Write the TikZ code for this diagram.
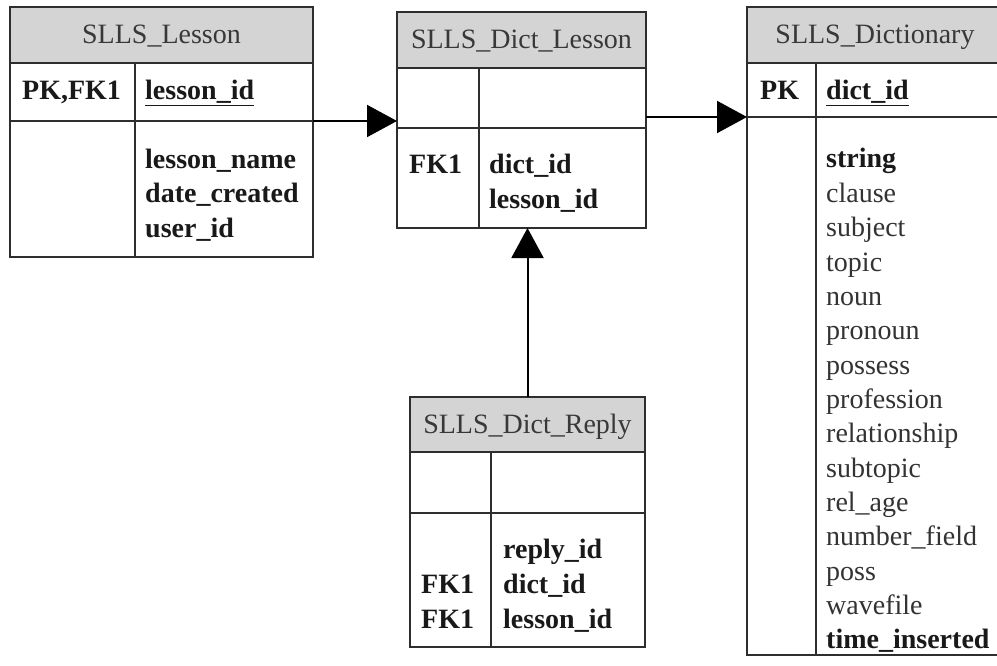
\documentclass[tikz,border=0pt]{standalone}
\usepackage{fontspec}
\setmainfont{Liberation Serif}
\usetikzlibrary{arrows.meta}
\begin{document}
\begin{tikzpicture}[x=1pt,y=-1pt,
  line/.style={draw=black!82, line width=1.8pt},
  cell/.style={line, anchor=north west, inner sep=0pt, outer sep=0pt, fill=white},
  hdr/.style={cell, fill=black!17, text=black!78, text height=20pt, text depth=2pt,
    font=\fontsize{28}{34}\selectfont},
  fld/.style={anchor=base west, inner sep=0pt, text=black!80, font=\fontsize{28}{34}\selectfont},
  fldb/.style={anchor=base west, inner sep=0pt, text=black!90, font=\fontsize{28}{34}\selectfont\bfseries},
  conn/.style={draw=black, line width=2pt, -{Triangle[length=30pt,width=32pt]}}
]
\clip (0,0) rectangle (997,666);
\useasboundingbox (0,0) rectangle (997,666);

% ---------- SLLS_Lesson ----------
\node[hdr, minimum width=303pt, minimum height=56pt] (les-h) at (10,7) {SLLS\_Lesson};
\node[cell, minimum width=303pt, minimum height=58pt] (les-k) at (10,63) {};
\node[cell, minimum width=303pt, minimum height=136pt] (les-b) at (10,121) {};
\draw[line] (135,63) -- (135,257);
\node[fldb] (les-pk) at (22,100) {PK,FK1};
\node[fldb] (les-id) at (145,100) {\underline{lesson\_id}};
\node[fldb] (les-f1) at (145,169) {lesson\_name};
\node[fldb] (les-f2) at (145,203) {date\_created};
\node[fldb] (les-f3) at (145,237) {user\_id};

% ---------- SLLS_Dict_Lesson ----------
\node[hdr, minimum width=249pt, minimum height=56pt] (dl-h) at (397,12) {SLLS\_Dict\_Lesson};
\node[cell, minimum width=249pt, minimum height=60pt] (dl-k) at (397,68) {};
\node[cell, minimum width=249pt, minimum height=100pt] (dl-b) at (397,128) {};
\draw[line] (479,68) -- (479,228);
\node[fldb] (dl-fk) at (409,174) {FK1};
\node[fldb] (dl-f1) at (489,174) {dict\_id};
\node[fldb] (dl-f2) at (489,208) {lesson\_id};

% ---------- SLLS_Dictionary ----------
\node[hdr, minimum width=256pt, minimum height=56pt] (dic-h) at (747,7) {SLLS\_Dictionary};
\node[cell, minimum width=280pt, minimum height=54pt] (dic-k) at (747,63) {};
\node[cell, minimum width=280pt, minimum height=538pt] (dic-b) at (747,117) {};
\draw[line] (816,63) -- (816,655);
\node[fldb] (dic-pk) at (760,100) {PK};
\node[fldb] (dic-id) at (826,100) {\underline{dict\_id}};
\node[fldb] (dic-f0) at (826,168) {string};
\foreach \t [count=\i] in {clause,subject,topic,noun,pronoun,possess,profession,
    relationship,subtopic,rel\_age,number\_field,poss,wavefile}
  \node[fld] (dic-f\i) at (826,{168+34.35*\i}) {\t};
\node[fldb] (dic-f14) at (826,{168+34.35*14}) {time\_inserted};

% ---------- SLLS_Dict_Reply ----------
\node[hdr, minimum width=235pt, minimum height=55pt] (rep-h) at (410,397) {SLLS\_Dict\_Reply};
\node[cell, minimum width=235pt, minimum height=61pt] (rep-k) at (410,452) {};
\node[cell, minimum width=235pt, minimum height=134pt] (rep-b) at (410,513) {};
\draw[line] (491,452) -- (491,647);
\node[fldb] (rep-f1) at (503,558) {reply\_id};
\node[fldb] (rep-f2) at (503,593) {dict\_id};
\node[fldb] (rep-f3) at (503,628) {lesson\_id};
\node[fldb] (rep-fk1) at (421,593) {FK1};
\node[fldb] (rep-fk2) at (421,628) {FK1};

% ---------- relationships ----------
\draw[conn] (les-k.south east) -- (les-k.south east -| dl-h.west);
\draw[conn] (dic-k.south west -| dl-h.east) -- (dic-k.south west);
\draw[conn] (rep-h.north) -- (rep-h.north |- dl-b.south);
\end{tikzpicture}
\end{document}
